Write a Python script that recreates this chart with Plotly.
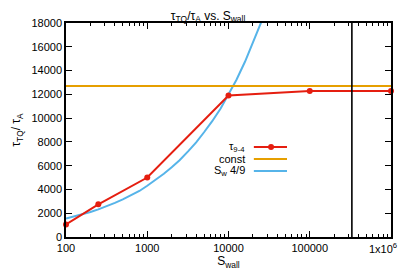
import plotly.graph_objects as go

# data
s_red = [100, 250, 1000, 10000, 100000, 1000000]
tau_red = [1050, 2750, 5000, 11900, 12280, 12280]

s_const = [100, 1000000]
tau_const = [12700, 12700]

s_blue = [100, 130, 160, 200, 250, 320, 400, 500, 630, 800, 1000, 1300, 1600, 2000, 2500, 3200, 4000,
          5000, 6300, 8000, 10000, 12500, 16000, 20000, 25000, 28000]
tau_blue = [1550, 1740, 1910, 2100, 2320, 2590, 2870, 3160, 3500, 3870, 4310, 4840, 5320, 5860, 6460,
            7220, 7960, 8810, 9740, 10810, 12000, 13210, 14760, 16300, 17990, 18900]

s_vline = 330000

x_tickvals = [100, 1000, 10000, 100000]
x_ticktext = ["100", "1000", "10000", "100000"]
y_tickvals = list(range(0, 18001, 2000))
y_ticktext = [str(v) for v in y_tickvals]

RED = "#e51e10"
ORANGE = "#e69f00"
BLUE = "#56b4e9"
FONT = "Liberation Sans, Arial, sans-serif"

fig = go.Figure()
fig.add_trace(go.Scatter(x=s_blue, y=tau_blue, mode="lines", line=dict(color=BLUE, width=2), showlegend=False))
fig.add_trace(go.Scatter(x=s_const, y=tau_const, mode="lines", line=dict(color=ORANGE, width=2), showlegend=False))
fig.add_trace(go.Scatter(x=s_red, y=tau_red, mode="lines+markers", line=dict(color=RED, width=2),
                         marker=dict(color=RED, size=6), showlegend=False, cliponaxis=False))
fig.add_trace(go.Scatter(x=[s_vline, s_vline], y=[0, 18000], mode="lines", line=dict(color="black", width=1.6), showlegend=False))

axis_common = dict(showline=True, linecolor="black", linewidth=1.5, mirror="ticks",
                   ticks="inside", ticklen=6, tickcolor="black", tickwidth=1,
                   showgrid=False, zeroline=False, tickfont=dict(family=FONT, size=11, color="black"))

fig.update_xaxes(type="log", range=[2, 6], tickvals=x_tickvals + [1000000], ticktext=x_ticktext + [" "],
                 minor=dict(ticks="inside", ticklen=3, dtick="D1", tickcolor="black", showgrid=False),
                 title=dict(text="S<sub>wall</sub>", font=dict(family=FONT, size=12, color="black"), standoff=4),
                 automargin=False, **axis_common)
fig.update_yaxes(range=[0, 18000], tickvals=y_tickvals, ticktext=y_ticktext,
                 title=dict(text="τ<sub>TQ</sub>/ τ<sub>A</sub>", font=dict(family=FONT, size=12, color="black"), standoff=8),
                 automargin=False, **axis_common)

# last x tick label (1x10^6) drawn as an annotation at the axis end so it stays inside the window
fig.add_annotation(x=1.0, y=0, xref="paper", yref="paper", text="1x10<sup>6</sup>", showarrow=False,
                   xanchor="right", yanchor="top", yshift=-2, xshift=8,
                   font=dict(family=FONT, size=11, color="black"))

# manual gnuplot-style legend (text left, sample right)
leg_y = [0.421, 0.364, 0.308]
leg_text = ["τ<sub>9-4</sub>", "const", "S<sub>w</sub> 4/9"]
leg_col = [RED, ORANGE, BLUE]
for yy, tt, cc in zip(leg_y, leg_text, leg_col):
    fig.add_annotation(x=0.557, y=yy, xref="paper", yref="paper", text=tt, showarrow=False,
                       xanchor="right", yanchor="middle", font=dict(family=FONT, size=11, color="black"))
    fig.add_shape(type="line", xref="paper", yref="paper", x0=0.578, x1=0.68, y0=yy, y1=yy,
                  line=dict(color=cc, width=2))
fig.add_shape(type="circle", xref="paper", yref="paper", xsizemode="pixel", ysizemode="pixel",
              xanchor=0.631, yanchor=leg_y[0], x0=-3, x1=3, y0=-3, y1=3,
              fillcolor=RED, line=dict(color=RED, width=0))

# the page has an 8px body margin, so the figure is 400x265 offset by 8px
fig.update_layout(
    width=400, height=265,
    margin=dict(l=58, r=17, t=15, b=36),
    paper_bgcolor="white", plot_bgcolor="white",
    title=dict(text="τ<sub>TQ</sub>/τ<sub>A</sub> vs. S<sub>wall</sub>", x=0.5, xanchor="center",
               y=0.972, yanchor="middle", font=dict(family=FONT, size=12, color="black")),
    font=dict(family=FONT, size=11, color="black"),
)

fig.write_html("out.html")
